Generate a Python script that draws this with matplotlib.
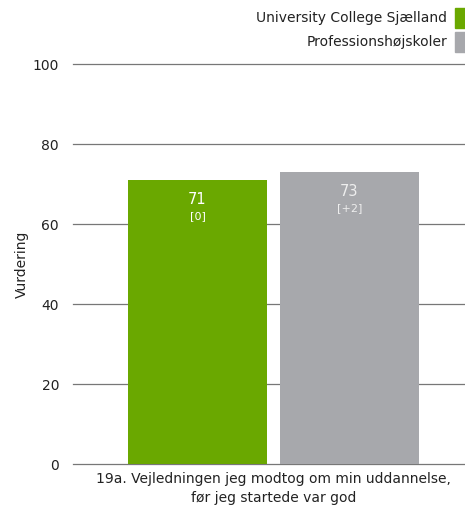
import matplotlib.pyplot as plt
from matplotlib.patches import Rectangle

# data
series = ['University College Sjælland', 'Professionshøjskoler']
values = [71, 73]
diffs = ['[0]', '[+2]']
colors = ['#6aa800', '#a7a8ac']
category = '19a. Vejledningen jeg modtog om min uddannelse,\nfør jeg startede var god'
yticks = [0, 20, 40, 60, 80, 100]

plt.rcParams['font.family'] = ['DejaVu Sans']

fig = plt.figure(figsize=(4.65, 5.09), dpi=100)
ax = fig.add_axes([0.157, 0.0884, 0.862, 0.7858])

w = 0.347
gap = 0.032
offsets = [-(w + gap) / 2, (w + gap) / 2]
txtcol = ['white', '#eeeeee']
for i in range(len(values)):
    ax.bar(offsets[i], values[i], width=w, color=colors[i], zorder=3)
    ax.text(offsets[i], values[i] - 3, str(values[i]), ha='center', va='top',
            color=txtcol[i], fontsize=10.5, zorder=4)
    ax.text(offsets[i], values[i] - 7.8, diffs[i], ha='center', va='top',
            color=txtcol[i], fontsize=8, zorder=4)

ax.set_xlim(-0.5, 0.5)
ax.set_ylim(0, 100)
ax.set_yticks(yticks)
ax.set_xticks([0])
ax.set_xticklabels([category], fontsize=10, color='#222222', linespacing=1.45)
ax.tick_params(axis='both', length=0, labelsize=10, colors='#222222')
ax.tick_params(axis='y', pad=10)
ax.tick_params(axis='x', pad=6)
for t in yticks:
    ax.axhline(t, color='#777777', linewidth=0.9, zorder=0, clip_on=False)
for s in ax.spines.values():
    s.set_visible(False)
ax.set_ylabel('Vurdering', fontsize=10, color='#222222', labelpad=3)

# legend
for i, name in enumerate(series):
    y0 = 1 - (28 + i * 24) / 509
    fig.patches.append(Rectangle((455 / 465, y0), 10 / 465, 20 / 509,
                                 transform=fig.transFigure, color=colors[i]))
    fig.text(447 / 465, y0 + 10 / 509, name, ha='right', va='center',
             fontsize=10, color='#222222')

fig.savefig('out.png', dpi=100)
